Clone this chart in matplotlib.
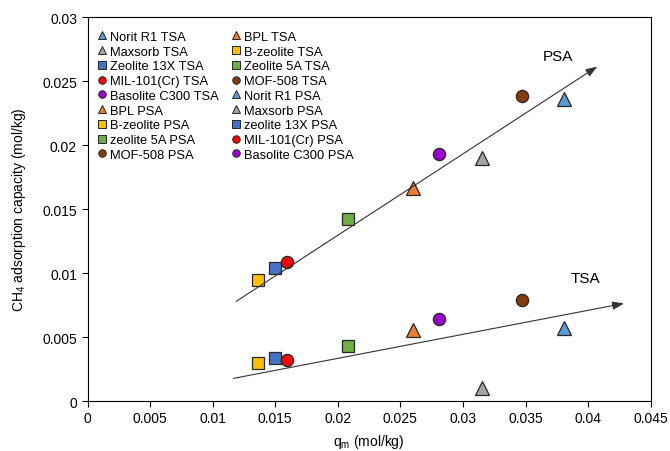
import matplotlib

matplotlib.use("Agg")

import matplotlib.pyplot as plt
from matplotlib.lines import Line2D

plt.rcParams["font.family"] = ["Liberation Sans", "DejaVu Sans"]
plt.rcParams["font.size"] = 10

# adsorbents, in legend order
materials = [
    "Norit R1", "BPL", "Maxsorb", "B-zeolite", "Zeolite 13X",
    "Zeolite 5A", "MIL-101(Cr)", "MOF-508", "Basolite C300",
]
psa_names = [
    "Norit R1", "BPL", "Maxsorb", "B-zeolite", "zeolite 13X",
    "zeolite 5A", "MIL-101(Cr)", "MOF-508", "Basolite C300",
]
q_m = [0.0381, 0.0260, 0.0315, 0.01366, 0.01497, 0.0208, 0.0159, 0.03474, 0.0281]
tsa_capacity = [0.0057, 0.00555, 0.00099, 0.0030, 0.00337, 0.0043, 0.0032, 0.00792, 0.00638]
psa_capacity = [0.0236, 0.01667, 0.0190, 0.00945, 0.01037, 0.0142, 0.01086, 0.02388, 0.01935]

markers = ["^", "^", "^", "s", "s", "s", "o", "o", "o"]
colors = ["#5B9BD5", "#ED7D31", "#A5A5A5", "#FFC000", "#4472C4",
          "#70AD47", "#FF0000", "#843C0C", "#9900CC"]

# trend arrows (start, end) in data units
psa_arrow = ((0.01188, 0.00779), (0.04073, 0.02615))
tsa_arrow = ((0.01167, 0.00177), (0.04287, 0.00763))


def main() -> None:
    fig = plt.figure(figsize=(6.7, 4.52), dpi=100)
    ax = fig.add_axes([0.1306, 0.1106, 0.9712 - 0.1306, 0.9595 - 0.1106])

    for q, tsa, psa, m, c in zip(q_m, tsa_capacity, psa_capacity, markers, colors):
        size = 9.8 if m == "^" else 8.8
        for y in (tsa, psa):
            ax.plot(q, y, marker=m, ms=size, mfc=c, mec="#262626", mew=0.9,
                    linestyle="none", zorder=3)

    for (x0, y0), (x1, y1) in (psa_arrow, tsa_arrow):
        ax.annotate("", xy=(x1, y1), xytext=(x0, y0),
                    arrowprops=dict(arrowstyle="-|>,head_length=0.7,head_width=0.25",
                                    color="#333333", lw=0.8, shrinkA=0, shrinkB=0))
    ax.text(0.0376, 0.0270, "PSA", fontsize=11, ha="center", va="center")
    ax.text(0.0398, 0.0096, "TSA", fontsize=11, ha="center", va="center")

    ax.set_xlim(0, 0.045)
    ax.set_ylim(0, 0.03)
    ax.set_xticks([0, 0.005, 0.01, 0.015, 0.02, 0.025, 0.03, 0.035, 0.04, 0.045])
    ax.set_xticklabels(["0", "0.005", "0.01", "0.015", "0.02", "0.025",
                        "0.03", "0.035", "0.04", "0.045"])
    ax.set_yticks([0, 0.005, 0.01, 0.015, 0.02, 0.025, 0.03])
    ax.set_yticklabels(["0", "0.005", "0.01", "0.015", "0.02", "0.025", "0.03"])
    ax.tick_params(direction="out", length=4, width=0.8, labelsize=10)
    for spine in ax.spines.values():
        spine.set_linewidth(0.8)
    ax.set_xlabel("q$_\\mathregular{m}$ (mol/kg)", fontsize=10, labelpad=5)
    ax.set_ylabel("CH$_\\mathregular{4}$ adsorption capacity (mol/kg)", fontsize=10,
                  labelpad=10)

    # legend entries read row by row in the original, two columns
    entries = []
    for name, m, c in zip(materials, markers, colors):
        entries.append((name + " TSA", m, c))
    for name, m, c in zip(psa_names, markers, colors):
        entries.append((name + " PSA", m, c))
    handles = [Line2D([], [], marker=m, ms=6.0 if m == "^" else 5.4, mfc=c,
                      mec="#262626", mew=0.7, linestyle="none")
               for _, m, c in entries]
    labels = [t for t, _, _ in entries]
    order = list(range(0, len(entries), 2)) + list(range(1, len(entries), 2))
    ax.legend([handles[i] for i in order], [labels[i] for i in order],
              ncol=2, loc="upper left", bbox_to_anchor=(0.018, 0.965),
              frameon=False, fontsize=9.3, handlelength=0.7, handletextpad=0.25,
              labelspacing=0.21, columnspacing=1.0, borderaxespad=0.0,
              borderpad=0.0)

    fig.savefig("out.png", dpi=100)
    plt.close(fig)


if __name__ == "__main__":
    main()
